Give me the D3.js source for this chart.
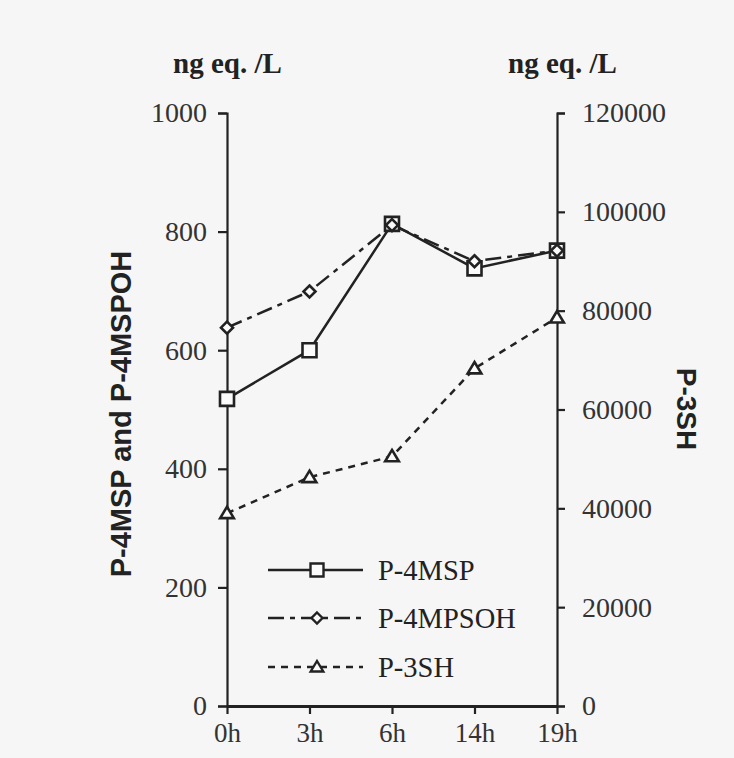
<!DOCTYPE html>
<html>
<head>
<meta charset="utf-8">
<script src="https://cdn.jsdelivr.net/npm/d3@7"></script>
<style>
	html, body { margin: 0; padding: 0; background: #f6f6f6; }
	svg { display: block; }
</style>
</head>
<body>
<div id="chart"></div>
<script>
var times = ["0h", "3h", "6h", "14h", "19h"];
var p4msp = [518, 600, 813, 738, 768];
var p4mpsoh = [638, 699, 811, 750, 768];
var p3sh = [39000, 46300, 50500, 68300, 78600];
var leftTicks = [0, 200, 400, 600, 800, 1000];
var rightTicks = [0, 20000, 40000, 60000, 80000, 100000, 120000];
var seriesNames = ["P-4MSP", "P-4MPSOH", "P-3SH"];

var width = 734, height = 758;
var ink = "#222";
var serif = "'Liberation Serif', 'Times New Roman', serif";
var sans = "'Liberation Sans', Arial, sans-serif";

var svg = d3.select("#chart").append("svg")
	.attr("width", width)
	.attr("height", height);

svg.append("rect")
	.attr("width", width)
	.attr("height", height)
	.attr("fill", "#f6f6f6");

var x = d3.scalePoint().domain(times).range([227, 557]);
var yLeft = d3.scaleLinear().domain([0, 1000]).range([706, 113]);
var yRight = d3.scaleLinear().domain([0, 120000]).range([706, 113]);

function styleAxis(g, size) {
	g.selectAll("path, line")
		.attr("stroke", ink)
		.attr("stroke-width", 2.2);
	g.selectAll("text")
		.attr("fill", "#333")
		.style("font-family", serif)
		.style("font-size", size + "px");
}

// axes
var gLeft = svg.append("g")
	.attr("transform", "translate(227,0)")
	.call(d3.axisLeft(yLeft).tickValues(leftTicks).tickSize(9).tickSizeOuter(9).tickPadding(11).tickFormat(d3.format("d")));
styleAxis(gLeft, 28);

var gRight = svg.append("g")
	.attr("transform", "translate(557,0)")
	.call(d3.axisRight(yRight).tickValues(rightTicks).tickSize(8).tickSizeOuter(8).tickPadding(17).tickFormat(d3.format("d")));
styleAxis(gRight, 28);

var gBottom = svg.append("g")
	.attr("transform", "translate(0,706)")
	.call(d3.axisBottom(x).tickSize(8).tickSizeOuter(0).tickPadding(9));
styleAxis(gBottom, 27);
gBottom.select(".domain").attr("stroke-width", 2.8);

// unit labels and axis titles
svg.append("text")
	.attr("x", 173).attr("y", 73)
	.style("font-family", serif).style("font-size", "29px").style("font-weight", "bold")
	.attr("fill", ink)
	.text("ng eq. /L");
svg.append("text")
	.attr("x", 508).attr("y", 73)
	.style("font-family", serif).style("font-size", "29px").style("font-weight", "bold")
	.attr("fill", ink)
	.text("ng eq. /L");

svg.append("text")
	.attr("transform", "translate(131,414) rotate(-90)")
	.attr("text-anchor", "middle")
	.style("font-family", sans).style("font-size", "29px").style("font-weight", "bold")
	.attr("fill", ink)
	.text("P-4MSP and P-4MSPOH");
svg.append("text")
	.attr("transform", "translate(677,409) rotate(90)")
	.attr("text-anchor", "middle")
	.style("font-family", sans).style("font-size", "28px").style("font-weight", "bold")
	.attr("fill", ink)
	.text("P-3SH");

// markers
function squarePath(s) {
	return "M" + (-s) + "," + (-s) + "H" + s + "V" + s + "H" + (-s) + "Z";
}
function diamondPath(s) {
	return "M0," + (-s) + "L" + s + ",0L0," + s + "L" + (-s) + ",0Z";
}
function trianglePath(s) {
	return "M0," + (-s) + "L" + (s * 1.05) + "," + (s * 0.75) + "L" + (-s * 1.05) + "," + (s * 0.75) + "Z";
}

var series = [
	{ name: seriesNames[0], values: p4msp, y: yLeft, dash: null, marker: squarePath, ms: 7, legMs: 6.5 },
	{ name: seriesNames[1], values: p4mpsoh, y: yLeft, dash: "16,6,5,6", marker: diamondPath, ms: 6, legMs: 5.5 },
	{ name: seriesNames[2], values: p3sh, y: yRight, dash: "7,6", marker: trianglePath, ms: 6.5, legMs: 6 }
];

var line = function (s) {
	return d3.line()
		.x(function (d, i) { return x(times[i]); })
		.y(function (d) { return s.y(d); })(s.values);
};

series.forEach(function (s) {
	svg.append("path")
		.attr("d", line(s))
		.attr("fill", "none")
		.attr("stroke", ink)
		.attr("stroke-width", 2.5)
		.attr("stroke-dasharray", s.dash);
});

series.forEach(function (s) {
	svg.append("g")
		.selectAll("path")
		.data(s.values)
		.enter()
			.append("path")
				.attr("transform", function (d, i) { return "translate(" + x(times[i]) + "," + s.y(d) + ")"; })
				.attr("d", s.marker(s.ms))
				.attr("fill", "#fbfbfb")
				.attr("stroke", ink)
				.attr("stroke-width", 2.6);
});

// legend
var legendRows = [570, 618, 667];
series.forEach(function (s, i) {
	var ly = legendRows[i];
	svg.append("line")
		.attr("x1", 268).attr("x2", 363)
		.attr("y1", ly).attr("y2", ly)
		.attr("stroke", ink)
		.attr("stroke-width", 2.4)
		.attr("stroke-dasharray", s.dash);
	svg.append("path")
		.attr("transform", "translate(317," + ly + ")")
		.attr("d", s.marker(s.legMs))
		.attr("fill", "#fbfbfb")
		.attr("stroke", ink)
		.attr("stroke-width", 2.4);
	svg.append("text")
		.attr("x", 378).attr("y", ly + 10)
		.style("font-family", serif).style("font-size", "28.5px")
		.attr("fill", ink)
		.text(s.name);
});
</script>
</body>
</html>
